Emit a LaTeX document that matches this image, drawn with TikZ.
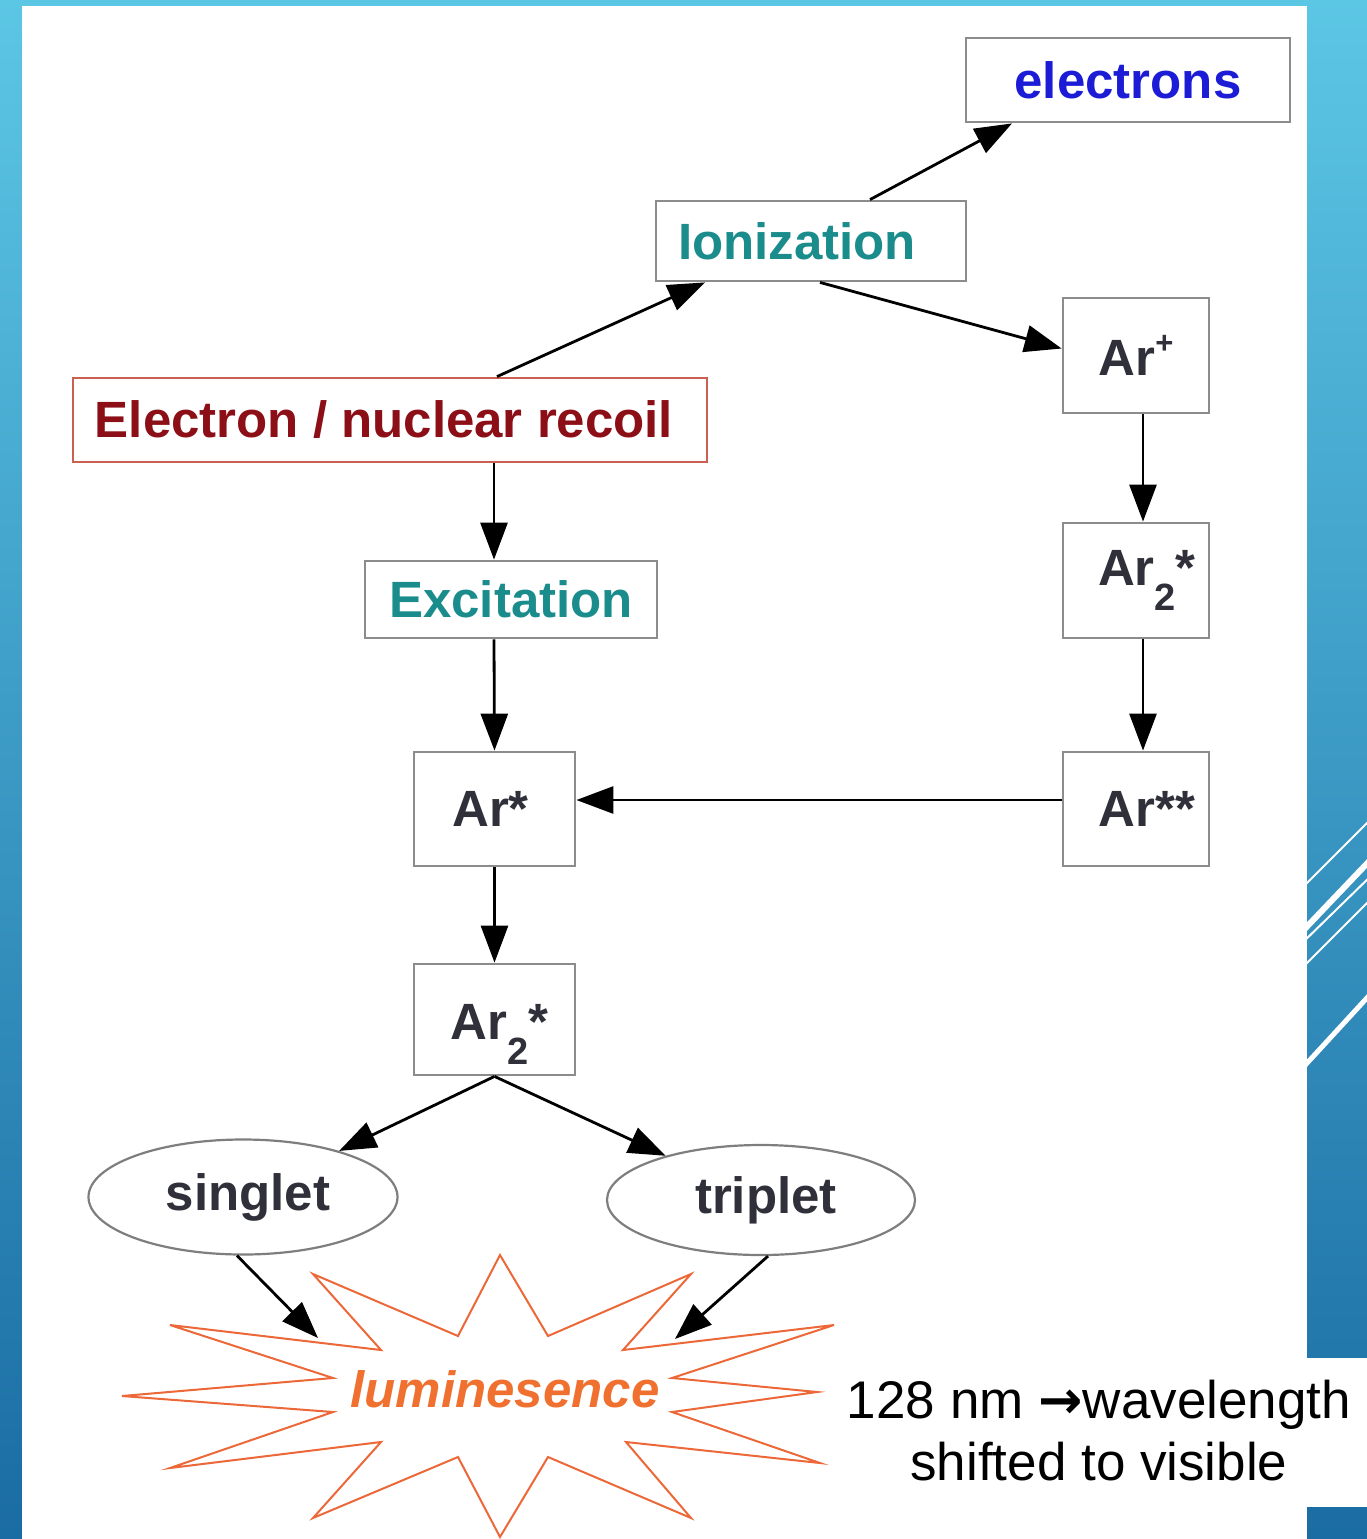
\documentclass[tikz,border=0pt]{standalone}
\usepackage{fontspec}
\setmainfont{Liberation Sans}
\newfontfamily\arrowfont{DejaVu Sans}
\usetikzlibrary{arrows.meta,calc,shapes.geometric}

\definecolor{bgtop}{RGB}{92,198,229}
\definecolor{bgbot}{RGB}{26,108,163}
\definecolor{boxgray}{RGB}{140,140,140}
\definecolor{recborder}{RGB}{204,96,80}
\definecolor{rectext}{RGB}{140,14,22}
\definecolor{eblue}{RGB}{28,28,214}
\definecolor{tealtext}{RGB}{26,140,140}
\definecolor{artext}{RGB}{48,48,58}
\definecolor{staror}{RGB}{236,104,56}
\definecolor{lumtext}{RGB}{240,112,48}

\newcommand\diagfont{\fontsize{25.5}{30}\selectfont\bfseries}
\newcommand\lumfont{\fontsize{25.5}{30}\selectfont\bfseries\itshape}
\newcommand\notefont{\fontsize{26.5}{31}\selectfont}
% argon dimer label: subscript 2 followed by a star; #1 = leading space
\newcommand\dimer[1]{\hspace*{#1}Ar\raisebox{-12.5pt}{\fontsize{19}{19}\selectfont 2}*}

\begin{document}
\begin{tikzpicture}[x=0.5pt,y=-0.5pt,
  box/.style={draw=boxgray,line width=1.4pt,fill=white,inner sep=0pt,
    font=\diagfont,text=artext},
  ell/.style={ellipse,draw=boxgray!90!black,line width=1.1pt,fill=white,
    inner sep=0pt,font=\diagfont,text=artext},
  conn/.style={line width=1.4pt,black,-{Triangle[length=18.5pt,width=13.5pt]}},
  stripline/.style={white}]

% slide background
\shade[top color=bgtop,bottom color=bgbot] (0,0) rectangle (1367,1539);
\useasboundingbox (0,0) rectangle (1367,1539);

% decorative diagonal strokes on the right edge
\begin{scope}
  \clip (1307,0) rectangle (1367,1539);
  \draw[stripline,line width=1pt] (1297,893) -- (1377,813);
  \draw[stripline,line width=3pt] (1297,937) -- (1377,853);
  \draw[stripline,line width=1pt] (1297,948) -- (1377,870);
  \draw[stripline,line width=1pt] (1297,973) -- (1377,893);
  \draw[stripline,line width=2.5pt] (1297,1074) -- (1377,987);
\end{scope}

% white panels
\fill[white] (22,6) rectangle (1307,1539);
\fill[white] (820,1358) rectangle (1367,1507);

% boxes
\node[box,minimum width=162pt,minimum height=42pt,text=eblue] (ele) at (1128,80) {electrons};
\node[box,minimum width=155pt,minimum height=40pt,text=tealtext] (ion) at (811,241)
  {Ionization\hspace*{14pt}};
\node[box,minimum width=73pt,minimum height=57.5pt] (arp) at (1136,355.5)
  {Ar\raisebox{11.25pt}{\fontsize{15.5}{15.5}\selectfont+}};
\node[box,draw=recborder,minimum width=317pt,minimum height=42pt,text=rectext] (rec) at (390,420)
  {Electron / nuclear recoil\hspace*{6pt}};
\node[box,minimum width=146pt,minimum height=38.5pt,text=tealtext] (exc) at (511,599.5) {Excitation};
\node[box,minimum width=73pt,minimum height=57.5pt] (arr) at (1136,580.5) {\dimer{11pt}};
\node[box,minimum width=80.5pt,minimum height=57pt] (ars) at (494.5,809) {Ar*\hspace*{4pt}};
\node[box,minimum width=73pt,minimum height=57pt] (arss) at (1136,809) {\hspace*{11pt}Ar**};
\node[box,minimum width=80.5pt,minimum height=55.5pt,text height=20pt,text depth=0pt]
  (arl) at (494.5,1019.5) {\dimer{5pt}};
\node[ell,minimum width=154.5pt,minimum height=57.5pt] (sing) at (243,1197) {\hspace*{5pt}singlet};
\node[ell,minimum width=154pt,minimum height=55pt] (trip) at (761,1200) {\hspace*{5pt}triplet};

% luminescence burst
\draw[staror,line width=1pt,line join=miter]
  (500,1255) -- (548,1336) -- (691,1274) -- (623,1350) -- (834,1325) -- (672,1378) --
  (817,1392) -- (672,1412) -- (820,1463) -- (626,1442) -- (691,1518) -- (548,1457) --
  (500,1537) -- (458,1457) -- (313,1518) -- (381,1442) -- (170,1468) -- (333,1412) --
  (122,1396) -- (333,1378) -- (170,1325) -- (381,1350) -- (313,1274) -- (458,1336) -- cycle;
\node[font=\lumfont,text=lumtext] (lum) at (505,1389) {luminesence};
\coordinate (sIn) at (318,1338);
\coordinate (tIn) at (675,1339);

% connectors
\draw[conn] ($(rec.north)+(107,0)$) -- ($(ion.south)+(-106,0)$);
\draw[conn] ($(ion.north)+(59,0)$) -- ($(ele.south)+(-116,0)$);
\draw[conn] ($(ion.south)+(9,0)$) -- ($(arp.west)+(0,-7)$);
\draw[conn] ($(rec.south)+(104,0)$) -- ($(exc.north)+(-17,0)$);
\draw[conn] ($(exc.south)+(-17,0)$) -- (ars.north);
\draw[conn] ($(arp.south)+(7,0)$) -- ($(arr.north)+(7,0)$);
\draw[conn] ($(arr.south)+(7,0)$) -- ($(arss.north)+(7,0)$);
\draw[conn] ($(arss.west)+(0,-9)$) -- ($(ars.east)+(0,-9)$);
\draw[conn] (ars.south) -- (arl.north);
\draw[conn] (arl.south) -- (sing);
\draw[conn] (arl.south) -- (trip);
\draw[conn] ($(sing.south)+(-6,0)$) -- (sIn);
\draw[conn] ($(trip.south)+(7,0)$) -- (tIn);

% note on wavelength shifting
\node[font=\notefont,align=center,text=black,inner sep=0pt] (note) at (1099,1431)
  {128 nm {\arrowfont\bfseries →}wavelength\\shifted to visible};
\end{tikzpicture}
\end{document}
